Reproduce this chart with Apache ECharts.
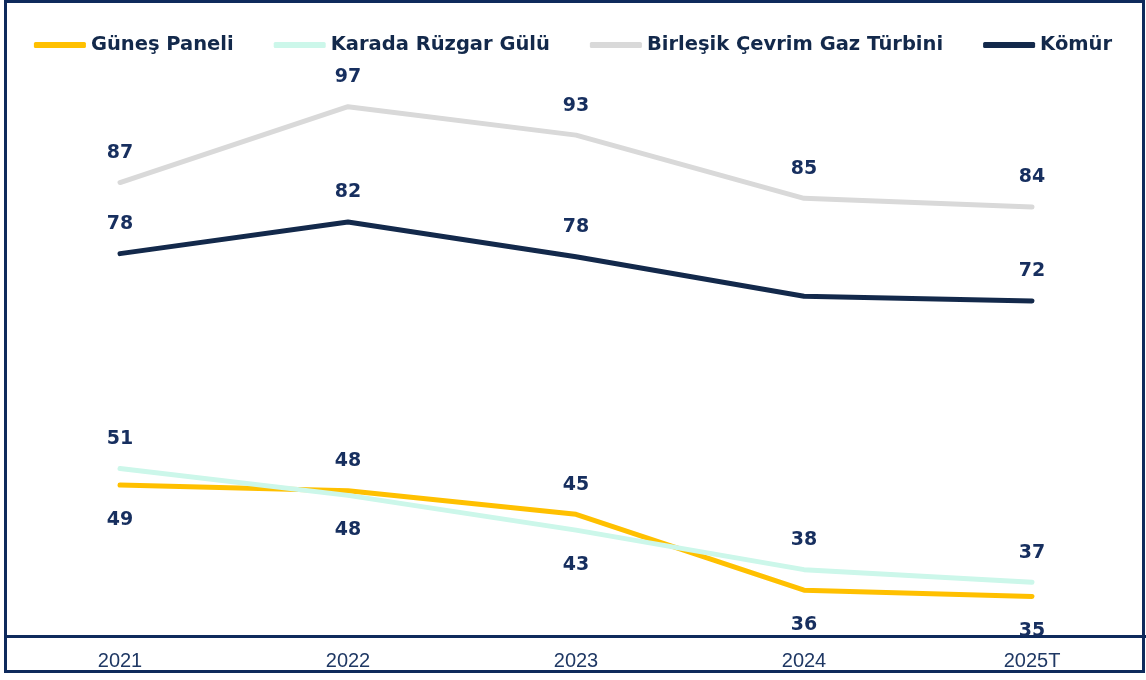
<!DOCTYPE html>
<html>
<head>
<meta charset="utf-8">
<script src="https://cdn.jsdelivr.net/npm/echarts@6/dist/echarts.min.js"></script>
<style>
  html, body { margin: 0; padding: 0; background: #fff; }
  #chart { width: 1146px; height: 680px; }
</style>
</head>
<body>
<div id="chart"></div>
<script>
  const years = ["2021", "2022", "2023", "2024", "2025T"];
  const gunes = [49.1, 48.4, 45.4, 35.8, 35.0];
  const ruzgar = [51.2, 47.8, 43.4, 38.4, 36.8];
  const gaz = [87.4, 97.0, 93.4, 85.4, 84.3];
  const komur = [78.4, 82.4, 78.0, 73.0, 72.4];
  // label side per point (lower two lines cross, so labels alternate)
  const gunesPos = ["bottom", "top", "top", "bottom", "bottom"];
  const ruzgarPos = ["top", "bottom", "bottom", "top", "top"];
  const komurShow = [true, true, true, false, true];

  const NAVY = "#13294b";
  const LABEL = "#172f5f";
  const FONT = "'DejaVu Sans', sans-serif";

  const labelStyle = {
    show: true,
    position: "top",
    distance: 20,
    color: LABEL,
    fontFamily: FONT,
    fontWeight: 700,
    fontSize: 19,
    formatter: (p) => Math.round(p.value),
  };

  function withPos(vals, pos) {
    return vals.map((v, i) => ({
      value: v,
      label: { position: pos[i], distance: pos[i] === "top" ? 20 : 25 },
    }));
  }

  function line(name, data, color) {
    return {
      name, type: "line", data,
      showSymbol: true, symbol: "circle", symbolSize: 0.1,
      lineStyle: { color, width: 5, cap: "round" },
      itemStyle: { color },
      label: labelStyle,
      emphasis: { disabled: true },
      z: 3,
    };
  }

  const chart = echarts.init(document.getElementById("chart"));
  chart.setOption({
    animation: false,
    backgroundColor: "#fff",
    legend: {
      top: 30,
      left: "center",
      itemGap: 40,
      itemWidth: 52,
      itemHeight: 6,
      icon: "roundRect",
      textStyle: { color: NAVY, fontFamily: FONT, fontWeight: 700, fontSize: 19.5 },
      data: ["Güneş Paneli", "Karada Rüzgar Gülü", "Birleşik Çevrim Gaz Türbini", "Kömür"],
    },
    grid: { left: 6, right: 0, top: 83, bottom: 44 },
    xAxis: {
      type: "category",
      data: years,
      axisLine: { lineStyle: { color: "#0e2a5c", width: 3 } },
      axisTick: { show: false },
      axisLabel: { color: "#1f3864", fontFamily: "'Liberation Sans', Arial, sans-serif", fontSize: 20, margin: 15 },
    },
    yAxis: { type: "value", min: 30, max: 100, show: false, splitLine: { show: false } },
    series: [
      line("Güneş Paneli", withPos(gunes, gunesPos), "#ffc000"),
      line("Karada Rüzgar Gülü", withPos(ruzgar, ruzgarPos), "#ccf7ea"),
      line("Birleşik Çevrim Gaz Türbini", gaz, "#d9d9d9"),
      line("Kömür", komur.map((v, i) => ({ value: v, label: { show: komurShow[i] } })), NAVY),
    ],
    graphic: [{
      type: "rect",
      shape: { x: 5.5, y: 1.5, width: 1138, height: 670 },
      style: { fill: null, stroke: "#0e2a5c", lineWidth: 3 },
      z: 10,
    }],
  });
</script>
</body>
</html>
